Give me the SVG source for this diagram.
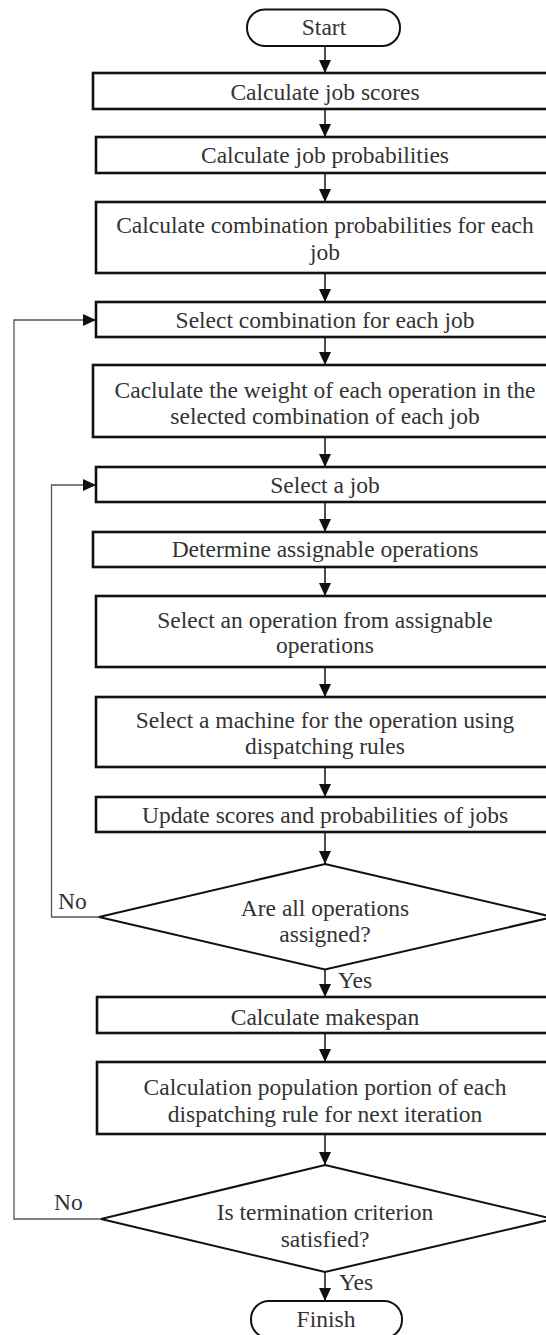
<svg xmlns="http://www.w3.org/2000/svg" width="546" height="1335" viewBox="0 0 546 1335">
<style>
.box{fill:#fff;stroke:#111;stroke-width:2.6}
.term{fill:#fff;stroke:#111;stroke-width:2}
.dia{fill:#fff;stroke:#111;stroke-width:2}
.t{font-family:"Liberation Serif","Times New Roman",serif;font-size:23.5px;fill:#333;text-anchor:middle}
.lb{font-family:"Liberation Serif","Times New Roman",serif;font-size:23.5px;fill:#333}
.c{fill:none;stroke:#111;stroke-width:1.5}
.loop{fill:none;stroke:#555;stroke-width:1.3}
</style>
<defs>
<marker id="ah" markerUnits="userSpaceOnUse" markerWidth="13" markerHeight="12" viewBox="0 0 13 12" refX="13" refY="6" orient="auto">
<path d="M0,0 L13,6 L0,12 z" fill="#111"/>
</marker>
</defs>
<rect width="546" height="1335" fill="#fff"/>
<g id="connectors">
<path class="c" d="M325,46 V73" marker-end="url(#ah)"/>
<path class="c" d="M325,109 V137" marker-end="url(#ah)"/>
<path class="c" d="M325,173 V202" marker-end="url(#ah)"/>
<path class="c" d="M325,273 V302" marker-end="url(#ah)"/>
<path class="c" d="M325,337 V365" marker-end="url(#ah)"/>
<path class="c" d="M325,437 V467" marker-end="url(#ah)"/>
<path class="c" d="M325,502 V532" marker-end="url(#ah)"/>
<path class="c" d="M325,567 V596" marker-end="url(#ah)"/>
<path class="c" d="M325,667 V697" marker-end="url(#ah)"/>
<path class="c" d="M325,767 V797" marker-end="url(#ah)"/>
<path class="c" d="M325,832 V864" marker-end="url(#ah)"/>
<path class="c" d="M325,969 V997" marker-end="url(#ah)"/>
<path class="c" d="M325,1033 V1062" marker-end="url(#ah)"/>
<path class="c" d="M325,1134 V1165" marker-end="url(#ah)"/>
<path class="c" d="M325,1272 V1301" marker-end="url(#ah)"/>
<path class="loop" d="M99,917 H51.5 V485 H96" marker-end="url(#ah)"/>
<path class="loop" d="M101,1219 H14 V320 H96" marker-end="url(#ah)"/>
<text class="lb" x="338" y="988">Yes</text>
<text class="lb" x="339" y="1290">Yes</text>
<text class="lb" x="58" y="909">No</text>
<text class="lb" x="54" y="1210">No</text>
</g>
<g id="start"><rect class="term" x="247" y="9.5" width="153" height="36.5" rx="18"/><text class="t" x="324" y="35">Start</text></g>
<g id="n1"><rect class="box" x="93" y="73" width="465" height="36"/><text class="t" x="325" y="100">Calculate job scores</text></g>
<g id="n2"><rect class="box" x="96" y="137" width="462" height="36"/><text class="t" x="325" y="163">Calculate job probabilities</text></g>
<g id="n3"><rect class="box" x="96" y="202" width="462" height="71"/><text class="t" x="325" y="233">Calculate combination probabilities for each</text><text class="t" x="325" y="260">job</text></g>
<g id="n4"><rect class="box" x="96" y="302" width="462" height="35"/><text class="t" x="325" y="328">Select combination for each job</text></g>
<g id="n5"><rect class="box" x="93" y="365" width="465" height="72"/><text class="t" x="325" y="398">Caclulate the weight of each operation in the</text><text class="t" x="325" y="424">selected combination of each job</text></g>
<g id="n6"><rect class="box" x="96" y="467" width="462" height="35"/><text class="t" x="325" y="493">Select a job</text></g>
<g id="n7"><rect class="box" x="93" y="532" width="465" height="35"/><text class="t" x="325" y="557">Determine assignable operations</text></g>
<g id="n8"><rect class="box" x="96" y="596" width="462" height="71"/><text class="t" x="325" y="628">Select an operation from assignable</text><text class="t" x="325" y="653">operations</text></g>
<g id="n9"><rect class="box" x="96" y="697" width="462" height="70"/><text class="t" x="325" y="728">Select a machine for the operation using</text><text class="t" x="325" y="754">dispatching rules</text></g>
<g id="n10"><rect class="box" x="96" y="797" width="462" height="35"/><text class="t" x="325" y="823">Update scores and probabilities of jobs</text></g>
<g id="d1"><polygon class="dia" points="325,864 553,917 325,969.5 99,917"/><text class="t" x="325" y="916">Are all operations</text><text class="t" x="325" y="942">assigned?</text></g>
<g id="n11"><rect class="box" x="97" y="997" width="461" height="36"/><text class="t" x="325" y="1025">Calculate makespan</text></g>
<g id="n12"><rect class="box" x="97" y="1062" width="461" height="72"/><text class="t" x="325" y="1095">Calculation population portion of each</text><text class="t" x="325" y="1122">dispatching rule for next iteration</text></g>
<g id="d2"><polygon class="dia" points="325,1165 553,1219 325,1272 101,1219"/><text class="t" x="325" y="1220">Is termination criterion</text><text class="t" x="325" y="1247">satisfied?</text></g>
<g id="finish"><rect class="term" x="251" y="1301" width="151" height="37" rx="18"/><text class="t" x="326" y="1327">Finish</text></g>
</svg>
